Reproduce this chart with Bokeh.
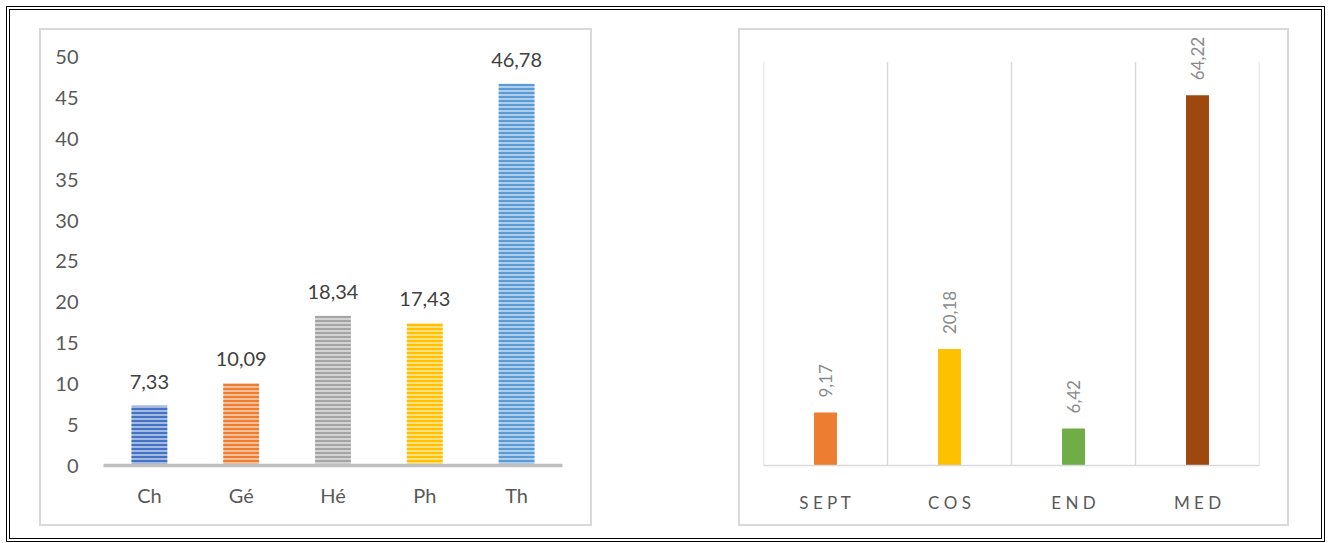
import math

from bokeh.plotting import figure
from bokeh.layouts import row
from bokeh.core.properties import value
from bokeh.models import (ColumnDataSource, LabelSet, FactorRange, Range1d,
                          FixedTicker, CustomJSTickFormatter)
from bokeh.embed import file_html
from bokeh.resources import INLINE

# Biological types (percent of species)
bio_types = ["Ch", "Gé", "Hé", "Ph", "Th"]
bio_pct = [7.33, 10.09, 18.34, 17.43, 46.78]
bio_colors = ["#4472C4", "#ED7D31", "#A5A5A5", "#FFC000", "#5B9BD5"]
bio_tints = ["#A2B9E2", "#F6BE98", "#D2D2D2", "#FFE080", "#ADCDEA"]
bio_ticks = [0, 5, 10, 15, 20, 25, 30, 35, 40, 45, 50]

# Phytogeographic types (percent of species)
geo_types = ["SEPT", "COS", "END", "MED"]
geo_pct = [9.17, 20.18, 6.42, 64.22]
geo_colors = ["#ED7D31", "#FFC000", "#70AD47", "#9E480E"]

FONT = "Lato"


def fr(v):
    return f"{v:.2f}".replace(".", ",")


# ---------- left chart ----------
src1 = ColumnDataSource(dict(
    cat=bio_types, val=bio_pct, color=bio_colors, tint=bio_tints,
    label=[fr(v) for v in bio_pct],
))

# frame reaches the top of the box so the value labels are not clipped;
# the scale stays at 50 units per 408 px
p1 = figure(
    x_range=FactorRange(*bio_types, range_padding=0),
    y_range=Range1d(0, 53.06),
    width=553, height=498,
    output_backend="svg", toolbar_location=None,
    min_border_left=62, min_border_right=32,
    min_border_top=2, min_border_bottom=63,
    outline_line_color=None,
)
p1.vbar(x="cat", top="val", width=0.39, source=src1,
        fill_color="tint", line_color=None,
        hatch_pattern="horizontal_line", hatch_color="color",
        hatch_scale=4, hatch_weight=2)
p1.add_layout(LabelSet(x="cat", y="val", text="label", source=src1,
                       text_align="center", text_baseline="alphabetic",
                       y_offset=17, text_color="#404040",
                       text_font=value(FONT), text_font_size="20px"))

p1.xgrid.visible = False
p1.ygrid.visible = False
p1.yaxis.ticker = FixedTicker(ticks=bio_ticks)
p1.yaxis.axis_line_color = None
p1.yaxis.major_tick_line_color = None
p1.yaxis.minor_tick_line_color = None
p1.yaxis.major_label_standoff = 19
p1.yaxis.major_label_text_font = FONT
p1.yaxis.major_label_text_font_size = "20px"
p1.yaxis.major_label_text_color = "#595959"

p1.xaxis.axis_line_color = "#BFBFBF"
p1.xaxis.axis_line_width = 3.5
p1.xaxis.major_tick_line_color = None
p1.xaxis.minor_tick_line_color = None
p1.xaxis.major_label_standoff = 11
p1.xaxis.major_label_text_font = FONT
p1.xaxis.major_label_text_font_size = "20px"
p1.xaxis.major_label_text_color = "#595959"

p1.margin = (18, 0, 12, 29)
p1.styles = {"border": "2px solid #d9d9d9"}

# ---------- right chart ----------
src2 = ColumnDataSource(dict(
    cat=geo_types, val=geo_pct, color=geo_colors,
    label=[fr(v) for v in geo_pct],
))

GEO_MAX = 70
p2 = figure(
    x_range=FactorRange(*geo_types, range_padding=0),
    y_range=Range1d(0, 75.08),
    width=551, height=498,
    output_backend="svg", toolbar_location=None,
    min_border_left=23, min_border_right=32,
    min_border_top=2, min_border_bottom=53,
    outline_line_color=None,
)
# separator lines between the category slots (slot edges on the factor axis)
slot_edges = list(range(len(geo_types) + 1))
p2.segment(x0=slot_edges, y0=0, x1=slot_edges, y1=GEO_MAX,
           line_color="#D9D9D9", line_width=1.5)
p2.vbar(x="cat", top="val", width=0.185, source=src2,
        fill_color="color", line_color=None)
p2.add_layout(LabelSet(x="cat", y="val", text="label", source=src2,
                       angle=math.pi / 2, text_align="left",
                       text_baseline="middle", y_offset=15,
                       text_color="#8A8A8A",
                       text_font=value(FONT), text_font_size="17px"))

p2.xgrid.visible = False
p2.ygrid.visible = False
p2.yaxis.visible = False
p2.xaxis.axis_line_color = "#D9D9D9"
p2.xaxis.axis_line_width = 1.5
p2.xaxis.major_tick_line_color = None
p2.xaxis.minor_tick_line_color = None
p2.xaxis.major_label_standoff = 20
p2.xaxis.major_label_text_font = FONT
p2.xaxis.major_label_text_font_size = "17px"
p2.xaxis.major_label_text_color = "#595959"
# letter-spaced category names
p2.xaxis.formatter = CustomJSTickFormatter(code="return tick.split('').join(' ');")

p2.margin = (18, 32, 12, 146)
p2.styles = {"border": "2px solid #d9d9d9"}

root = row(p1, p2, margin=(6, 0, 0, 6),
           styles={"border": "4px double #000000"})

open("out.html", "w").write(file_html(root, INLINE))
